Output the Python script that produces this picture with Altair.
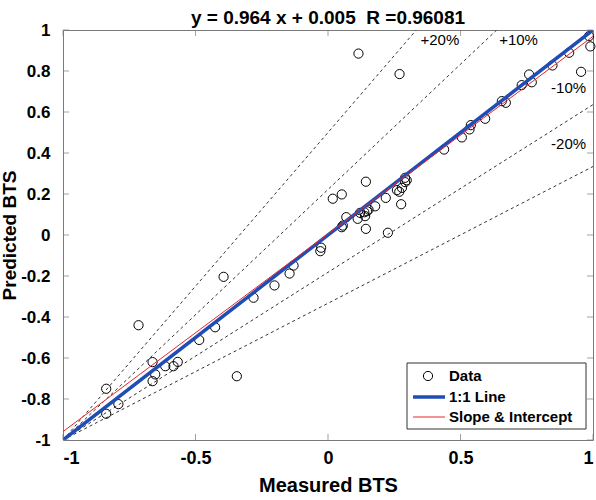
import altair as alt
import pandas as pd

# ---------------- data ----------------
measured = [0.115, 0.27, 0.985, 0.99, 0.955, 0.91, 0.847, 0.769, 0.759, 0.731, 0.671, 0.656, 0.593, 0.539, 0.534, 0.505, 0.438,
            0.297, 0.291, 0.291, 0.279, 0.269, 0.26, 0.276, 0.226, 0.218, 0.178, 0.143, 0.143, 0.153, 0.147, 0.137, 0.121, 0.14,
            0.112, 0.069, 0.056, 0.052, 0.052, 0.018, -0.026, -0.029,
            -0.13, -0.145, -0.202, -0.281, -0.394, -0.344, -0.426, -0.486, -0.567, -0.583, -0.614, -0.662, -0.652, -0.662,
            -0.715, -0.791, -0.837, -0.837]
predicted = [0.885, 0.785, 0.97, 0.92, 0.796, 0.889, 0.827, 0.745, 0.783, 0.731, 0.645, 0.653, 0.567, 0.536, 0.515, 0.476, 0.417,
             0.267, 0.279, 0.258, 0.23, 0.211, 0.219, 0.15, 0.011, 0.181, 0.14, 0.26, 0.03, 0.124, 0.116, 0.111, 0.108, 0.092,
             0.079, 0.087, 0.046, 0.038, 0.198, 0.177, -0.062, -0.079,
             -0.149, -0.188, -0.246, -0.306, -0.204, -0.689, -0.45, -0.512, -0.619, -0.64, -0.64, -0.62, -0.68, -0.713,
             -0.44, -0.825, -0.75, -0.872]

x_ticks = [-1, -0.5, 0, 0.5, 1]
y_ticks = [-1, -0.8, -0.6, -0.4, -0.2, 0, 0.2, 0.4, 0.6, 0.8, 1]

band_slopes = [1.5, 1.222, 0.818, 0.667]          # dashed error-band lines through (-1,-1)
band_names = ["p20", "p10", "m10", "m20"]
band_labels = ["+20%", "+10%", "-10%", "-20%"]
band_label_x = [0.422, 0.719, 0.908, 0.908]
band_label_y = [0.95, 0.95, 0.718, 0.446]

fit_slope = 0.964
fit_intercept = 0.005
r_value = 0.96081

legend_labels = ["Data", "1:1 Line", "Slope & Intercept"]

title_text = f"y = {fit_slope} x + {fit_intercept}\u00a0 R ={r_value}"

# ---------------- tables ----------------
pts = pd.DataFrame({"m": measured, "p": predicted})

band_rows = []
for name, k in zip(band_names, band_slopes):
    band_rows.append({"g": name, "m": -1.0, "p": -1.0})
    if k >= 1:
        band_rows.append({"g": name, "m": -1 + 2 / k, "p": 1.0})
    else:
        band_rows.append({"g": name, "m": 1.0, "p": -1 + 2 * k})
bands = pd.DataFrame(band_rows)

one2one = pd.DataFrame({"m": [-1, 1], "p": [-1, 1]})
fit = pd.DataFrame({"m": [-1, 1], "p": [fit_slope * -1 + fit_intercept, fit_slope * 1 + fit_intercept]})
band_txt = pd.DataFrame({"m": band_label_x, "p": band_label_y, "t": band_labels})

# ---------------- styling ----------------
W, H = 530, 410
FONT = "Liberation Sans"
FRAME = "#7a7a7a"
BLUE = "#1f4db5"
RED = "#e8262b"

xs = alt.Scale(domain=[-1, 1], nice=False, zero=False)
ys = alt.Scale(domain=[-1, 1], nice=False, zero=False)

axis_style = dict(domain=False, ticks=False, grid=False,
                  labelFont=FONT, labelFontWeight="bold", labelColor="black",
                  titleFont=FONT, titleFontWeight="bold", titleColor="black",
                  labelExpr="'' + datum.value")

X = alt.X("m:Q", scale=xs, axis=alt.Axis(values=x_ticks, title="Measured BTS",
                                          labelFontSize=18, titleFontSize=20,
                                          labelPadding=9, titlePadding=8, **axis_style))
Y = alt.Y("p:Q", scale=ys, axis=alt.Axis(values=y_ticks, title="Predicted BTS",
                                          labelFontSize=17, titleFontSize=19,
                                          labelPadding=13, titleX=-44, titleY=H / 2,
                                          **axis_style))

points = alt.Chart(pts).mark_point(shape="circle", filled=False, color="black", size=85,
                                   strokeWidth=1, opacity=1).encode(x=X, y=Y)

band_lines = alt.Chart(bands).mark_line(strokeDash=[3, 3], color="#333333", strokeWidth=1, clip=True).encode(
    x=X, y=Y, detail="g:N")

band_text = alt.Chart(band_txt).mark_text(font=FONT, fontSize=15, color="black").encode(
    x=X, y=Y, text="t:N")

blue_line = alt.Chart(one2one).mark_line(color=BLUE, strokeWidth=3.5, clip=True).encode(x=X, y=Y)
red_line = alt.Chart(fit).mark_line(color=RED, strokeWidth=1, clip=True).encode(x=X, y=Y)

# inward ticks on all four sides
xt = pd.DataFrame({"m": x_ticks})
yt = pd.DataFrame({"p": y_ticks})
TL = 6
tick_bottom = alt.Chart(xt).mark_tick(color=FRAME, thickness=1, size=TL).encode(
    x=X, y=alt.value(H - TL / 2))
tick_top = alt.Chart(xt).mark_tick(color=FRAME, thickness=1, size=TL).encode(
    x=X, y=alt.value(TL / 2))
tick_left = alt.Chart(yt).mark_tick(color=FRAME, thickness=1, size=TL).encode(
    y=Y, x=alt.value(TL / 2))
tick_right = alt.Chart(yt).mark_tick(color=FRAME, thickness=1, size=TL).encode(
    y=Y, x=alt.value(W - TL / 2))

# legend box (manual, MATLAB style)
one = pd.DataFrame({"a": [0]})
leg_box = alt.Chart(one).mark_rect(fill="white", stroke="#333333", strokeWidth=1).encode(
    x=alt.value(344), x2=alt.value(523), y=alt.value(333), y2=alt.value(399))
leg_circle = alt.Chart(one).mark_point(shape="circle", filled=False, color="black", size=85,
                                       strokeWidth=1, opacity=1).encode(
    x=alt.value(365), y=alt.value(346))
leg_blue = alt.Chart(one).mark_rule(color=BLUE, strokeWidth=3.5).encode(
    x=alt.value(350), x2=alt.value(382), y=alt.value(367))
leg_red = alt.Chart(one).mark_rule(color=RED, strokeWidth=1).encode(
    x=alt.value(350), x2=alt.value(382), y=alt.value(387))
leg_texts = []
for lab, yy in zip(legend_labels, [346, 367, 387]):
    leg_texts.append(
        alt.Chart(pd.DataFrame({"t": [lab]})).mark_text(font=FONT, fontSize=15, fontWeight="bold",
                                                         align="left", baseline="middle", color="black").encode(
            x=alt.value(386), y=alt.value(yy), text="t:N"))

chart = alt.layer(
    points, band_lines, band_text, blue_line, red_line,
    tick_bottom, tick_top, tick_left, tick_right,
    leg_box, leg_circle, leg_blue, leg_red, *leg_texts,
).properties(
    width=W, height=H,
    background="white",
    title=alt.TitleParams(text=title_text, font=FONT, fontSize=19, fontWeight="bold",
                          color="black", anchor="middle", frame="group", offset=-7),
    autosize=alt.AutoSizeParams(type="none"),
    padding={"left": 63, "top": 30, "right": 3, "bottom": 60},
).configure_view(
    stroke=FRAME, strokeWidth=1
)

chart.save("out.html", embed_options={"renderer": "svg", "actions": False})
